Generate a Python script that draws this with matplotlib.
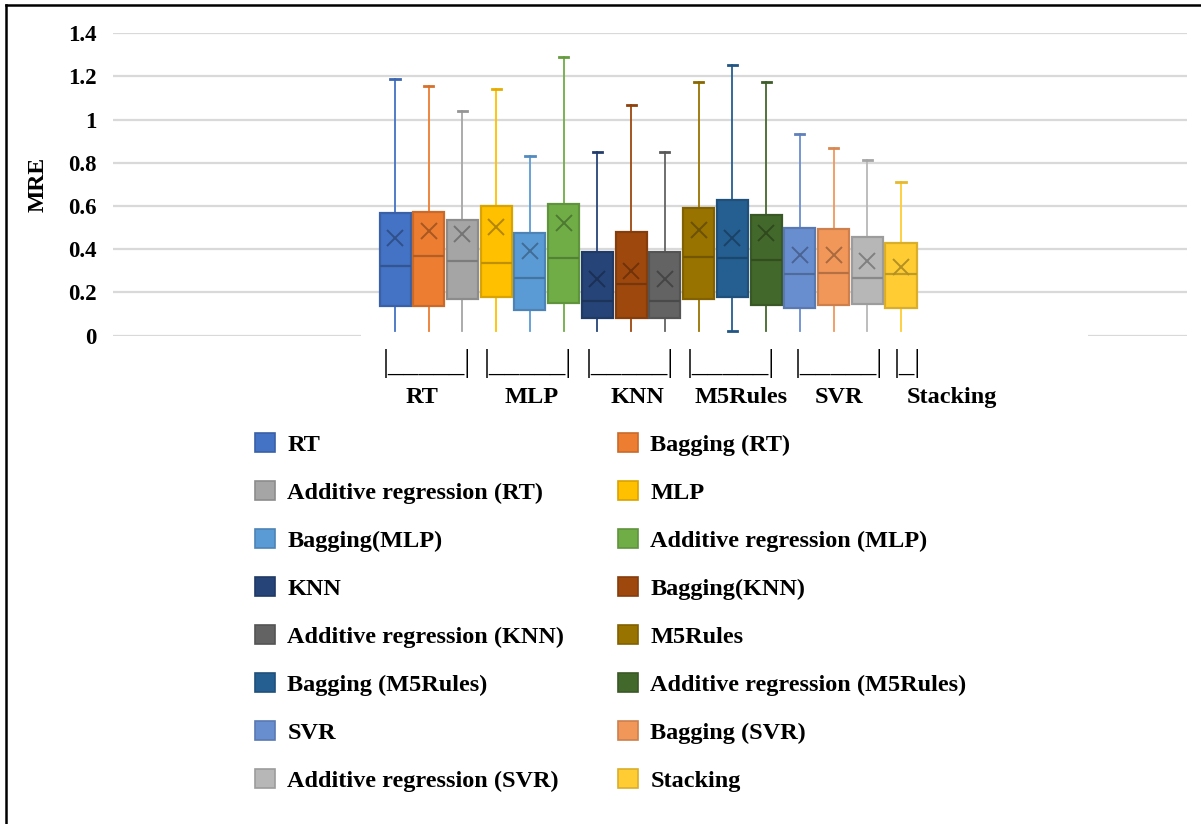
import matplotlib
matplotlib.use("Agg")
import matplotlib.pyplot as plt
import matplotlib.colors as mcolors
from matplotlib.patches import Patch, Rectangle
from matplotlib.lines import Line2D

# series in chart order
series = [
    "RT", "Bagging (RT)", "Additive regression (RT)",
    "MLP", "Bagging(MLP)", "Additive regression (MLP)",
    "KNN", "Bagging(KNN)", "Additive regression (KNN)",
    "M5Rules", "Bagging (M5Rules)", "Additive regression (M5Rules)",
    "SVR", "Bagging (SVR)", "Additive regression (SVR)",
    "Stacking",
]
colors = [
    "#4472C4", "#ED7D31", "#A5A5A5",
    "#FFC000", "#5B9BD5", "#70AD47",
    "#264478", "#9E480E", "#636363",
    "#997300", "#255E91", "#43682B",
    "#698ED0", "#F1975A", "#B7B7B7",
    "#FFCD33",
]
# box statistics
whisker_lo = [0.02] * 16
q1 = [0.137, 0.137, 0.168, 0.178, 0.119, 0.150, 0.080, 0.080,
      0.080, 0.171, 0.181, 0.141, 0.130, 0.142, 0.148, 0.130]
median = [0.324, 0.369, 0.346, 0.337, 0.266, 0.361, 0.161, 0.239,
          0.162, 0.364, 0.360, 0.349, 0.287, 0.290, 0.267, 0.286]
q3 = [0.567, 0.571, 0.534, 0.599, 0.477, 0.611, 0.389, 0.481,
      0.389, 0.593, 0.627, 0.559, 0.497, 0.494, 0.458, 0.428]
whisker_hi = [1.188, 1.156, 1.040, 1.142, 0.830, 1.292, 0.849, 1.068,
              0.849, 1.173, 1.253, 1.173, 0.934, 0.868, 0.813, 0.712]
mean = [0.451, 0.485, 0.469, 0.505, 0.392, 0.520, 0.262, 0.300,
        0.262, 0.489, 0.451, 0.474, 0.375, 0.375, 0.347, 0.319]

groups = ["RT", "MLP", "KNN", "M5Rules", "SVR", "Stacking"]
brackets = ["|_____|", "|_____|", "|_____|", "|_____|", "|_____|", "|_|"]

SERIF = "Liberation Serif"


def darker(c, f=0.78):
    r, g, b = mcolors.to_rgb(c)
    return (r * f, g * f, b * f)


def main():
    fig = plt.figure(figsize=(12.01, 8.24), dpi=100)
    ax = fig.add_axes([0.0941, 0.5926, 0.8943, 0.3670])

    stats = []
    for i in range(len(series)):
        stats.append(dict(whislo=whisker_lo[i], q1=q1[i], med=median[i],
                          q3=q3[i], whishi=whisker_hi[i], mean=mean[i],
                          fliers=[], label=series[i]))

    pos = list(range(len(series)))
    bp = ax.bxp(stats, positions=pos, widths=0.92, showmeans=True,
                patch_artist=True, capwidths=0.27, manage_ticks=False)

    for i, c in enumerate(colors):
        edge = darker(c, 0.85)
        bp["boxes"][i].set(facecolor=c, edgecolor=edge, linewidth=1.6, zorder=3)
        bp["medians"][i].set(color=darker(c, 0.75), linewidth=1.6, zorder=4)
        for w in bp["whiskers"][2 * i:2 * i + 2]:
            w.set(color=c, linewidth=1.3, zorder=2)
        for k, cap in enumerate(bp["caps"][2 * i:2 * i + 2]):
            cap.set(color=darker(c, 0.9), linewidth=2.0, zorder=2)
            if k == 0 and i != 10:
                cap.set_visible(False)
        bp["means"][i].set(marker="x", markersize=12, markeredgewidth=1.4,
                           markeredgecolor=darker(c, 0.7), zorder=5)

    ax.set_xlim(-8.36, 23.48)
    ax.set_ylim(0, 1.4)
    ax.set_yticks([0, 0.2, 0.4, 0.6, 0.8, 1.0, 1.2, 1.4])
    ax.set_yticklabels(["0", "0.2", "0.4", "0.6", "0.8", "1", "1.2", "1.4"],
                       fontfamily=SERIF, fontweight="bold", fontsize=16.5)
    ax.tick_params(axis="y", length=0, pad=12)
    ax.set_xticks([])
    ax.grid(axis="y", color="#D9D9D9", linewidth=1.6, zorder=0)
    ax.set_axisbelow(True)
    for s in ax.spines.values():
        s.set_visible(False)
    ax.set_ylabel("MRE", fontfamily=SERIF, fontweight="bold", fontsize=17,
                  labelpad=14)

    # white strip hiding the zero line under the boxes
    ax.add_patch(Rectangle((0.231, -0.02), 0.677, 0.031, transform=ax.transAxes,
                           facecolor="white", edgecolor="none", clip_on=False,
                           zorder=1))

    # group brackets and labels under the boxes
    tr = ax.get_xaxis_transform()
    bracket_x = [0.95, 3.95, 6.95, 9.95, 13.15, 15.2]
    label_x = [0.8, 4.05, 7.2, 10.25, 13.15, 16.5]
    for b, bx in zip(brackets, bracket_x):
        ax.text(bx, -0.117, b, transform=tr, ha="center", va="baseline",
                fontfamily=SERIF, fontsize=22, clip_on=False)
    for g, lx in zip(groups, label_x):
        ax.text(lx, -0.223, g, transform=tr, ha="center", va="baseline",
                fontfamily=SERIF, fontweight="bold", fontsize=17.5, clip_on=False)

    # legend, filled row by row
    handles = [Patch(facecolor=c, edgecolor=darker(c, 0.85), linewidth=1.2)
               for c in colors]
    order = list(range(0, 16, 2)) + list(range(1, 16, 2))
    fig.legend([handles[k] for k in order], [series[k] for k in order],
               ncol=2, loc="upper left", bbox_to_anchor=(0.2123, 0.4745),
               frameon=False, prop=dict(family=SERIF, weight="bold", size=17.5),
               handlelength=0.83, handleheight=0.83, handletextpad=0.5,
               labelspacing=1.03, columnspacing=2.21, borderaxespad=0,
               borderpad=0)

    # frame of the cropped figure
    fig.add_artist(Line2D([0.005, 0.005], [0, 0.994], color="black", linewidth=1.8))
    fig.add_artist(Line2D([0.005, 1.0], [0.994, 0.994], color="black", linewidth=1.8))

    fig.savefig("out.png", dpi=100)
    plt.close(fig)


if __name__ == "__main__":
    main()
